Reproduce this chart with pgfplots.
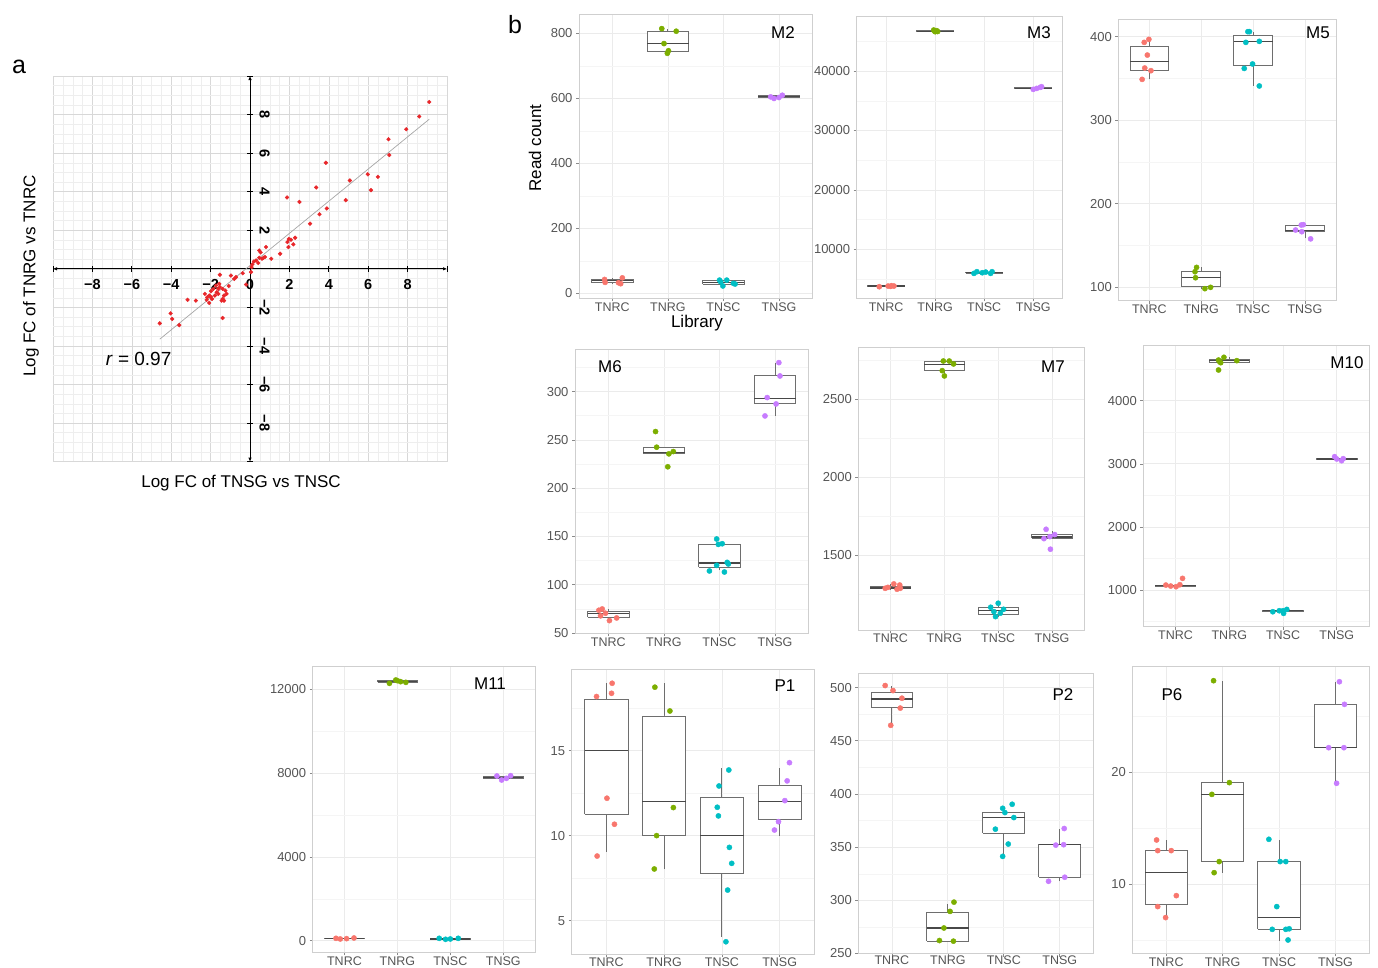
\documentclass[border=0pt]{standalone}
\usepackage{fontspec}
\setmainfont{Liberation Sans}
\usepackage{pgfplots}
\pgfplotsset{compat=1.18}
\usetikzlibrary{arrows.meta}
\definecolor{cR}{HTML}{F8766D}
\definecolor{cG}{HTML}{7CAE00}
\definecolor{cB}{HTML}{00BFC4}
\definecolor{cP}{HTML}{C77CFF}
\definecolor{gmaj}{HTML}{EBEBEB}
\definecolor{gmin}{HTML}{F5F5F5}
\definecolor{bord}{HTML}{CFCFCF}
\definecolor{tickc}{HTML}{8A8A8A}
\definecolor{labc}{HTML}{555555}
\definecolor{boxc}{HTML}{6E6E6E}
\definecolor{medc}{HTML}{484848}
\definecolor{agmaj}{HTML}{D8D8D8}
\definecolor{agmin}{HTML}{EEEEEE}
\definecolor{ptred}{HTML}{E8262A}
\newcommand{\fs}[1]{\fontsize{#1}{#1}\selectfont}
% box: #1 centre, #2 left, #3 right, #4 lower whisker, #5 lower quartile, #6 median, #7 upper quartile, #8 upper whisker
\newcommand{\bx}[8]{%
  \addplot[draw=boxc, line width=0.8pt] coordinates {(#1,#4) (#1,#5)};
  \addplot[draw=boxc, line width=0.8pt] coordinates {(#1,#7) (#1,#8)};
  \addplot[draw=boxc, fill=white, line width=0.8pt] coordinates {(#2,#5) (#3,#5) (#3,#7) (#2,#7) (#2,#5)};
  \addplot[draw=medc, line width=1.4pt] coordinates {(#2,#6) (#3,#6)};
}
\pgfplotsset{
  gg/.style={scale only axis, anchor=north west, xmin=0.4, xmax=4.6,
    xtick={1,2,3,4}, xticklabels={TNRC,TNRG,TNSC,TNSG},
    grid=both, major grid style={draw=gmaj, line width=0.7pt},
    minor grid style={draw=gmin, line width=0.45pt},
    axis line style={draw=bord, line width=0.8pt},
    tick pos=left, tick align=outside, major tick length=3pt, minor tick length=0pt,
    tick style={draw=tickc, line width=0.6pt},
    xticklabel style={font=\fs{12.5}, text=labc, yshift=2.5pt},
    yticklabel style={font=\fs{13}, text=labc},
    /pgf/number format/1000 sep={},
    /pgf/number format/assume math mode=true},
  pR/.style={only marks, mark=*, mark size=2.6pt, color=cR, mark options={draw=none, fill=cR}},
  pG/.style={only marks, mark=*, mark size=2.6pt, color=cG, mark options={draw=none, fill=cG}},
  pB/.style={only marks, mark=*, mark size=2.6pt, color=cB, mark options={draw=none, fill=cB}},
  pP/.style={only marks, mark=*, mark size=2.6pt, color=cP, mark options={draw=none, fill=cP}},
}
\begin{document}
\begin{tikzpicture}
\path[use as bounding box] (0pt,0pt) rectangle (1378pt,-967pt);

% ---------------- panel a ----------------
\begin{axis}[at={(53pt,-76pt)}, anchor=north west, scale only axis,
  width=394pt, height=385.6pt,
  xmin=-10, xmax=10, ymin=-10, ymax=10,
  axis lines*=middle,
  axis line style={line width=0.8pt, black, {Latex[length=4pt,width=3.5pt]}-{Latex[length=4pt,width=3.5pt]}},
  xtick={-10,-8,...,10}, ytick={-10,-8,...,10},
  xticklabels={,−8,−6,−4,−2,0,2,4,6,8,},
  yticklabels={,−8,−6,−4,−2,,2,4,6,8,},
  hide obscured x ticks=false, hide obscured y ticks=false,
  minor tick num=3,
  grid=both, major grid style={draw=agmaj, line width=0.6pt},
  minor grid style={draw=agmin, line width=0.4pt},
  tick align=center, major tick length=6pt, minor tick length=0pt,
  tick style={black, line width=0.8pt},
  xticklabel style={font=\fs{14.5}\bfseries, text=black, yshift=-4pt},
  yticklabel style={font=\fs{14.5}\bfseries, text=black, xshift=9pt, rotate=-90, anchor=south},
  clip=false]
\addplot[gray!70, line width=0.7pt] coordinates {(-4.58,-3.65) (9.1,7.76)};
\addplot[only marks, mark=*, mark size=1.9pt, color=ptred, mark options={draw=none, fill=ptred}] coordinates {
(9.10,8.65) (8.59,7.90) (7.93,7.24) (7.03,6.72) (7.07,5.90) (3.85,5.50) (3.36,4.22) (5.07,4.58) (5.98,4.90) (6.49,4.77) (6.14,4.08) (4.86,3.56) (1.88,3.70) (2.51,3.47) (3.90,3.13) (3.53,2.83) (3.05,2.34) (2.29,1.61) (1.97,1.55) (2.08,1.51) (1.90,1.39) (2.20,1.27) (1.95,1.13) (1.53,0.78) (1.08,0.52) (0.81,1.13) (0.47,0.95) (0.54,0.85) (0.76,0.61) (0.68,0.57) (0.61,0.52) (0.47,0.57) (0.31,0.43) (0.20,0.38) (0.42,0.30) (0.12,0.23) (0.08,0.09) (0.05,-0.17) (-0.20,-0.82) (-0.37,-0.23) (-0.71,-0.43) (-0.80,-0.52) (-0.97,-0.35) (-1.08,-0.89) (-1.53,-0.31) (-1.39,-1.04) (-1.25,-1.13) (-1.19,-1.30) (-1.32,-1.39) (-1.39,-1.56) (-1.44,-1.65) (-1.32,-1.65) (-1.39,-2.55) (-1.53,-0.95) (-1.61,-1.04) (-1.69,-1.22) (-1.86,-1.04) (-1.98,-1.16) (-2.07,-1.39) (-2.17,-1.48) (-2.29,-1.30) (-2.00,-1.44) (-1.93,-1.56) (-2.20,-1.61) (-2.07,-1.77) (-1.78,-1.39) (-1.61,-1.30) (-1.56,-0.78) (-1.73,-0.87) (-2.75,-1.65) (-3.17,-1.61) (-4.03,-2.31) (-3.95,-2.60) (-3.59,-2.92) (-4.58,-2.83)};
\node[anchor=west, font=\fs{19}] at (axis cs:-7.5,-4.67) {\textit{r} = 0.97};
\end{axis}
\node[font=\fs{25}] at (19pt,-67pt) {a};
\node[font=\fs{25}] at (515pt,-25pt) {b};
\node[font=\fs{17}] at (241pt,-483pt) {Log FC of TNSG vs TNSC};
\node[font=\fs{17}, rotate=90] at (31pt,-276pt) {Log FC of TNRG vs TNRC};

% ---------------- M2 ----------------
\begin{axis}[gg, at={(579pt,-14pt)}, width=233.3pt, height=284.3pt,
  ymin=-15, ymax=860, ytick={0,200,400,600,800}, minor ytick={100,300,500,700}]
\bx{1}{0.625}{1.375}{29}{33}{39}{43}{48}
\bx{2}{1.625}{2.375}{738}{744}{769}{806}{815}
\bx{3}{2.625}{3.375}{23}{29}{34}{39}{41}
\bx{4}{3.625}{4.375}{600}{603}{606}{608}{610}
\addplot[pR] coordinates {(0.86,43) (0.87,34) (1.11,33) (1.18,48) (1.15,30)};
\addplot[pG] coordinates {(1.89,815) (2.15,807) (1.93,769) (2.01,747) (1.99,739)};
\addplot[pB] coordinates {(2.93,41) (2.99,23) (3.06,41) (3.18,31) (2.95,36) (3.21,29)};
\addplot[pP] coordinates {(3.85,605) (4.00,603) (4.06,610) (3.91,600)};
\end{axis}
\node[font=\fs{17}] at (783pt,-33pt) {M2};
\node[font=\fs{17}, rotate=90] at (535pt,-148pt) {Read count};
\node[font=\fs{17}] at (697pt,-323pt) {Library};

% ---------------- M3 ----------------
\begin{axis}[gg, at={(856.7pt,-16pt)}, width=206pt, height=282.3pt,
  ymin=1770, ymax=49260, ytick={10000,20000,30000,40000},
  minor ytick={5000,15000,25000,35000,45000}, scaled y ticks=false]
\bx{1}{0.625}{1.375}{3720}{3750}{3830}{3880}{3890}
\bx{2}{1.625}{2.375}{46620}{46650}{46700}{46790}{46900}
\bx{3}{2.625}{3.375}{5960}{6000}{6130}{6200}{6240}
\bx{4}{3.625}{4.375}{36920}{37000}{37080}{37200}{37360}
\addplot[pR] coordinates {(0.86,3720) (1.04,3830) (1.11,3890) (1.16,3830) (1.09,3780)};
\addplot[pG] coordinates {(1.97,46900) (2.00,46620) (2.03,46790) (1.99,46700) (2.05,46650)};
\addplot[pB] coordinates {(2.79,5960) (2.85,6240) (2.96,6070) (3.03,6180) (3.13,5960) (3.16,6240)};
\addplot[pP] coordinates {(4.00,36920) (4.14,37250) (4.17,37360) (4.07,37080)};
\end{axis}
\node[font=\fs{17}] at (1039pt,-33pt) {M3};

% ---------------- M5 ----------------
\begin{axis}[gg, at={(1118.3pt,-19.3pt)}, width=217.7pt, height=281.4pt,
  ymin=84, ymax=420.8, ytick={100,200,300,400}, minor ytick={150,250,350}]
\bx{1}{0.625}{1.375}{348.9}{360.1}{370.5}{388.8}{396.8}
\bx{2}{1.625}{2.375}{98.4}{100.8}{112}{118.7}{123.9}
\bx{3}{2.625}{3.375}{341}{365.3}{394.4}{402}{406}
\bx{4}{3.625}{4.375}{158.6}{167}{167.8}{173.8}{175}
\addplot[pR] coordinates {(0.90,393.2) (0.99,396.8) (0.96,378) (0.91,362.5) (1.03,359.3) (0.86,348.9)};
\addplot[pG] coordinates {(1.91,123.9) (1.88,118.7) (1.89,111.5) (2.07,98.4) (2.18,100)};
\addplot[pB] coordinates {(2.90,406) (2.93,406) (2.86,393.2) (3.12,394.4) (2.83,362) (2.99,367.3) (3.12,341)};
\addplot[pP] coordinates {(3.93,174.6) (3.97,175) (3.82,168.6) (3.94,166.6) (4.11,158)};
\end{axis}
\node[font=\fs{17}] at (1318pt,-33pt) {M5};

% ---------------- M6 ----------------
\begin{axis}[gg, at={(575pt,-349.3pt)}, width=233.3pt, height=284pt,
  ymin=49.6, ymax=343.8, ytick={50,100,150,200,250,300}, minor ytick={75,125,175,225,275,325}]
\bx{1}{0.625}{1.375}{62.8}{66.6}{70}{72.4}{74.8}
\bx{2}{1.625}{2.375}{235.5}{236.2}{237.2}{242.4}{242.4}
\bx{3}{2.625}{3.375}{115}{117.9}{122.4}{142.1}{142.1}
\bx{4}{3.625}{4.375}{274.8}{287.9}{293.1}{316.5}{330}
\addplot[pR] coordinates {(0.83,73.5) (0.89,74.8) (0.86,67.7) (0.95,70.4) (1.02,62.8) (1.15,65.5)};
\addplot[pG] coordinates {(1.85,258.6) (1.87,242.4) (2.09,235.5) (2.17,237.9) (2.07,222.1)};
\addplot[pB] coordinates {(2.95,147.3) (2.98,141.7) (3.05,142.4) (2.95,120) (3.14,123.1) (3.16,121.4) (2.82,114.2) (3.09,113.1)};
\addplot[pP] coordinates {(4.07,330) (4.09,316.2) (3.86,293.8) (4.02,287.2) (3.82,274.8)};
\end{axis}
\node[font=\fs{17}] at (610pt,-367pt) {M6};

% ---------------- M7 ----------------
\begin{axis}[gg, at={(858.3pt,-347.3pt)}, width=226pt, height=282.7pt,
  ymin=1018, ymax=2834, ytick={1500,2000,2500}, minor ytick={1250,1750,2250,2750}]
\bx{1}{0.625}{1.375}{1280}{1283}{1288}{1300}{1314}
\bx{2}{1.625}{2.375}{2650}{2684}{2725}{2742}{2746}
\bx{3}{2.625}{3.375}{1104}{1121}{1143}{1164}{1190}
\bx{4}{3.625}{4.375}{1605}{1609}{1616}{1631}{1656}
\addplot[pR] coordinates {(0.90,1286) (0.95,1292) (1.06,1314) (1.12,1280) (1.17,1307) (1.18,1286)};
\addplot[pG] coordinates {(1.98,2746) (2.09,2746) (2.17,2727) (1.96,2684) (2.00,2650)};
\addplot[pB] coordinates {(2.86,1164) (3.00,1190) (2.92,1136) (2.95,1104) (3.10,1151) (3.04,1126)};
\addplot[pP] coordinates {(3.89,1665) (3.85,1605) (3.96,1618) (4.05,1631) (3.97,1537)};
\end{axis}
\node[font=\fs{17}] at (1053pt,-367pt) {M7};

% ---------------- M10 ----------------
\begin{axis}[gg, at={(1143.3pt,-345pt)}, width=225.7pt, height=281.7pt,
  ymin=419, ymax=4882, ytick={1000,2000,3000,4000}, minor ytick={500,1500,2500,3500,4500}]
\bx{1}{0.625}{1.375}{1053}{1060}{1070}{1080}{1084}
\bx{2}{1.625}{2.375}{4602}{4610}{4634}{4650}{4687}
\bx{3}{2.625}{3.375}{630}{656}{672}{680}{693}
\bx{4}{3.625}{4.375}{3049}{3065}{3076}{3090}{3113}
\addplot[pR] coordinates {(0.82,1079) (0.91,1063) (1.01,1053) (1.08,1084) (1.13,1185)};
\addplot[pG] coordinates {(1.80,4644) (1.84,4602) (1.90,4687) (2.14,4634) (1.80,4486) (1.82,4618)};
\addplot[pB] coordinates {(2.81,656) (2.93,672) (3.01,630) (3.07,693) (3.00,672)};
\addplot[pP] coordinates {(3.96,3113) (4.00,3076) (4.09,3049) (4.12,3081)};
\end{axis}
\node[font=\fs{17}] at (1347pt,-363pt) {M10};

% ---------------- M11 ----------------
\begin{axis}[gg, at={(312.7pt,-666pt)}, width=222.3pt, height=286.3pt,
  ymin=-557, ymax=13114, ytick={0,4000,8000,12000}, minor ytick={2000,6000,10000}, scaled y ticks=false]
\bx{1}{0.625}{1.375}{80}{90}{105}{118}{127}
\bx{2}{1.625}{2.375}{12287}{12334}{12366}{12414}{12446}
\bx{3}{2.625}{3.375}{64}{70}{85}{111}{111}
\bx{4}{3.625}{4.375}{7671}{7760}{7800}{7850}{7878}
\addplot[pR] coordinates {(0.84,111) (0.92,80) (1.04,95) (1.18,127)};
\addplot[pG] coordinates {(1.85,12287) (1.97,12446) (2.06,12366) (2.16,12334) (2.00,12414)};
\addplot[pB] coordinates {(2.79,111) (2.91,64) (3.00,80) (3.15,111)};
\addplot[pP] coordinates {(3.88,7862) (3.97,7671) (4.06,7751) (4.14,7878)};
\end{axis}
\node[font=\fs{17}] at (490pt,-684pt) {M11};

% ---------------- P1 ----------------
\begin{axis}[gg, at={(571.7pt,-669.3pt)}, width=242.6pt, height=284.7pt,
  ymin=3.04, ymax=19.78, ytick={5,10,15}, minor ytick={7.5,12.5,17.5}]
\bx{1}{0.625}{1.375}{9.06}{11.27}{15.02}{18.02}{19.0}
\bx{2}{1.625}{2.375}{8.02}{10}{12}{17.04}{19}
\bx{3}{2.625}{3.375}{4.06}{7.78}{10}{12.25}{13.96}
\bx{4}{3.625}{4.375}{10}{10.98}{12}{12.98}{13.96}
\addplot[pR] coordinates {(0.83,18.18) (1.10,18.96) (1.09,18.37) (1.01,12.2) (1.14,10.67) (0.84,8.8)};
\addplot[pG] coordinates {(1.84,18.73) (2.10,17.33) (2.16,11.65) (1.87,10.0) (1.83,8.04)};
\addplot[pB] coordinates {(3.12,13.86) (2.95,12.92) (2.92,11.67) (2.94,11.16) (3.13,9.31) (3.17,8.37) (3.10,6.8) (3.07,3.76)};
\addplot[pP] coordinates {(4.17,14.29) (4.13,13.22) (4.09,12.06) (3.98,10.82) (3.91,10.33)};
\end{axis}
\node[font=\fs{17}] at (785pt,-686pt) {P1};

% ---------------- P2 ----------------
\begin{axis}[gg, at={(858.3pt,-673.3pt)}, width=235pt, height=280.2pt,
  xticklabel style={yshift=1.5pt},
  ymin=250, ymax=513.4, ytick={250,300,350,400,450,500}, minor ytick={275,325,375,425,475}]
\bx{1}{0.625}{1.375}{464.5}{481.6}{489.1}{495.3}{501.6}
\bx{2}{1.625}{2.375}{261.6}{261.6}{274}{289}{296.8}
\bx{3}{2.625}{3.375}{341.9}{363.2}{378.1}{383.1}{388.7}
\bx{4}{3.625}{4.375}{317.7}{321.7}{352.3}{352.3}{366.9}
\addplot[pR] coordinates {(0.88,501.9) (1.02,497.2) (1.18,490) (1.15,480.7) (0.98,464.5)};
\addplot[pG] coordinates {(2.11,298.3) (2.04,289.6) (1.93,274) (1.85,262.2) (2.10,261.6)};
\addplot[pB] coordinates {(3.15,390.3) (2.98,386.5) (3.02,382.5) (3.18,377.8) (2.85,366.9) (3.08,352.9) (2.98,341.3)};
\addplot[pP] coordinates {(4.08,367.5) (3.93,351.9) (4.07,352.3) (4.09,321.7) (3.80,317.9)};
\end{axis}
\node[font=\fs{17}] at (1063pt,-695pt) {P2};

% ---------------- P6 ----------------
\begin{axis}[gg, at={(1132.3pt,-666.7pt)}, width=237pt, height=286.6pt,
  ymin=3.81, ymax=29.4, ytick={10,20}, minor ytick={5,15,25}]
\bx{1}{0.625}{1.375}{7.02}{8.21}{11.01}{12.98}{13.93}
\bx{2}{1.625}{2.375}{11.01}{12}{18}{19.05}{28.15}
\bx{3}{2.625}{3.375}{4.94}{5.95}{7.0}{12}{13.93}
\bx{4}{3.625}{4.375}{19.05}{22.17}{22.17}{26.04}{28.06}
\addplot[pR] coordinates {(0.83,13.93) (0.85,12.98) (1.09,12.98) (1.18,8.96) (0.85,7.98) (0.99,7.0)};
\addplot[pG] coordinates {(1.84,28.15) (2.12,19.05) (1.81,18.0) (1.94,12.0) (1.85,11.01)};
\addplot[pB] coordinates {(2.82,13.99) (3.02,12) (3.12,12) (2.96,7.98) (2.88,5.95) (3.12,5.95) (3.18,6.0) (3.16,5.0)};
\addplot[pP] coordinates {(4.07,28.06) (4.16,26.04) (3.88,22.17) (4.15,22.17) (4.02,18.99)};
\end{axis}
\node[font=\fs{17}] at (1172pt,-695pt) {P6};
\end{tikzpicture}
\end{document}
